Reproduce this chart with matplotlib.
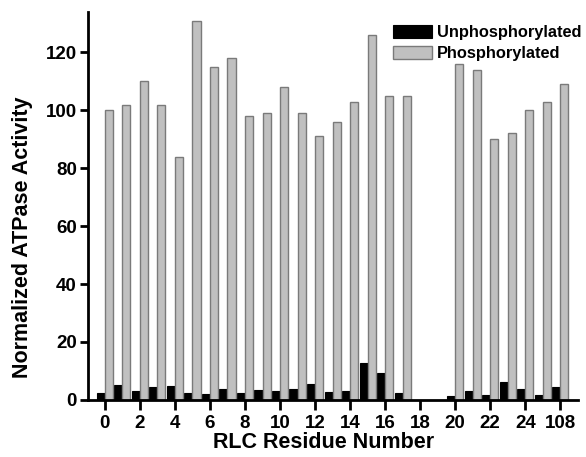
import numpy as np
import matplotlib
matplotlib.use("Agg")
import matplotlib.pyplot as plt

plt.rcParams['font.family'] = ['Liberation Sans', 'DejaVu Sans']
plt.rcParams['font.weight'] = 'bold'

# RLC residue (108 is drawn in the slot after 25)
residues = [0, 1, 2, 3, 4, 5, 6, 7, 8, 9, 10, 11, 12, 13, 14, 15, 16, 17,
            20, 21, 22, 23, 24, 25, 108]
unphos = [2.4, 5.3, 3.1, 4.5, 4.7, 2.4, 2.0, 3.7, 2.5, 3.4, 2.9, 3.8, 5.4, 2.6,
          3.1, 12.9, 9.2, 2.5, 1.2, 3.1, 1.7, 6.1, 3.9, 1.7, 4.4]
phos = [100, 102, 110, 102, 84, 131, 115, 118, 98, 99, 108, 99, 91, 96,
        103, 126, 105, 105, 116, 114, 90, 92, 100, 103, 109]
tick_labels = ['0', '2', '4', '6', '8', '10', '12', '14', '16', '18',
               '20', '22', '24', '108']

xpos = np.array([r if r < 100 else 26 for r in residues], dtype=float)
w = 0.46

fig = plt.figure(figsize=(5.86, 4.57), dpi=100)
ax = fig.add_axes([0.150, 0.125, 0.836, 0.849])

ax.bar(xpos - w/2, unphos, w, color='black', edgecolor='black', linewidth=0.8,
       label='Unphosphorylated')
ax.bar(xpos + w/2, phos, w, color='#c0c0c0', edgecolor='#7a7a7a', linewidth=1.0,
       label='Phosphorylated')

ax.set_xlim(-0.97, 27)
ax.set_ylim(0, 134)
ax.set_xticks(np.arange(0, 27, 2))
ax.set_xticklabels(tick_labels)
ax.set_yticks(np.arange(0, 121, 20))

for s in ['top', 'right']:
    ax.spines[s].set_visible(False)
for s in ['left', 'bottom']:
    ax.spines[s].set_linewidth(2)

ax.tick_params(axis='both', direction='out', width=2, labelsize=13.5)
ax.tick_params(axis='x', length=7, pad=4)
ax.tick_params(axis='y', length=6, pad=2)

ax.set_xlabel('RLC Residue Number', fontsize=15.5, fontweight='bold')
ax.xaxis.set_label_coords(0.482, -0.084)
ax.set_ylabel('Normalized ATPase Activity', fontsize=15.5, fontweight='bold')
ax.yaxis.set_label_coords(-0.112, 0.418)

leg = ax.legend(loc='upper left', bbox_to_anchor=(0.622, 0.965), frameon=False,
                fontsize=11.8, handlelength=2.4, handleheight=0.8,
                handletextpad=0.3, labelspacing=0.35, borderpad=0,
                borderaxespad=0)

fig.savefig('out.png', dpi=100)
